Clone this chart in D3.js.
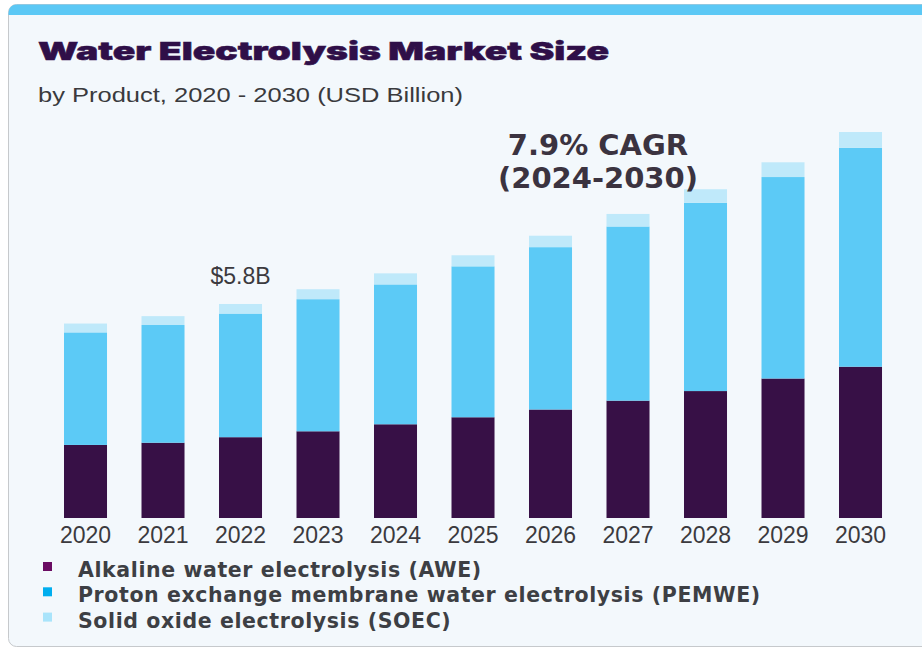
<!DOCTYPE html>
<html>
<head>
<meta charset="utf-8">
<script src="https://cdn.jsdelivr.net/npm/d3@7"></script>
<style>
  html, body { margin: 0; padding: 0; background: #ffffff; }
  svg { display: block; }
</style>
</head>
<body>
<svg id="chart" width="922" height="648"></svg>
<script>
// Water electrolysis market size by product, USD billion
const years = ["2020", "2021", "2022", "2023", "2024", "2025", "2026", "2027", "2028", "2029", "2030"];
const awe   = [1.98, 2.04, 2.19, 2.35, 2.54, 2.73, 2.94, 3.18, 3.44, 3.78, 4.10];
const pemwe = [3.05, 3.19, 3.35, 3.58, 3.79, 4.09, 4.40, 4.72, 5.10, 5.46, 5.93];
const soec  = [0.24, 0.24, 0.26, 0.27, 0.30, 0.30, 0.31, 0.34, 0.37, 0.40, 0.43];

const seriesKeys   = ["awe", "pemwe", "soec"];
const seriesNames  = ["Alkaline water electrolysis (AWE)",
                      "Proton exchange membrane water electrolysis (PEMWE)",
                      "Solid oxide electrolysis (SOEC)"];
const barColors    = ["#371046", "#5ccaf6", "#bfe9fa"];
const legendColors = ["#6a0c63", "#00aeef", "#a9e4fb"];

const calloutYear  = "2022";
const calloutText  = "$5.8B";
const cagrLines    = ["7.9% CAGR", "(2024-2030)"];

const titleText    = "Water Electrolysis Market Size";
const subtitleText = "by Product, 2020 - 2030 (USD Billion)";

const rows = years.map((yr, i) => ({ year: yr, awe: awe[i], pemwe: pemwe[i], soec: soec[i] }));

const svg = d3.select("#chart");

// Card background with a blue strip along the top edge
const defs = svg.append("defs");
defs.append("clipPath").attr("id", "card-clip")
  .append("rect")
  .attr("x", 8.5).attr("y", 4.5).attr("width", 940).attr("height", 642).attr("rx", 8);

svg.append("rect")
  .attr("x", 8.5).attr("y", 4.5).attr("width", 940).attr("height", 642).attr("rx", 8)
  .attr("fill", "#f3f8fc").attr("stroke", "#c6c9cc").attr("stroke-width", 1);

svg.append("g").attr("clip-path", "url(#card-clip)")
  .append("rect")
  .attr("x", 0).attr("y", 4).attr("width", 960).attr("height", 11)
  .attr("fill", "#5bc8f5");

// Title and subtitle
svg.append("text")
  .attr("x", 38).attr("y", 60)
  .attr("font-family", "Inter, Lato, Roboto, 'Liberation Sans', sans-serif")
  .attr("font-weight", 900)
  .attr("font-size", 25)
  .attr("fill", "#2f0f48")
  .attr("stroke", "#2f0f48")
  .attr("stroke-width", 0.5)
  .attr("textLength", 571)
  .attr("lengthAdjust", "spacingAndGlyphs")
  .text(titleText);

svg.append("text")
  .attr("x", 38).attr("y", 102)
  .attr("font-family", "'Liberation Sans', Arial, sans-serif")
  .attr("font-size", 21)
  .attr("fill", "#3a3a3d")
  .attr("textLength", 425).attr("lengthAdjust", "spacingAndGlyphs")
  .text(subtitleText);

// Scales
const x = d3.scaleBand()
  .domain(years)
  .range([46.76, 899.26])
  .paddingInner(0.445)
  .paddingOuter(0.2225);

const y = d3.scaleLinear()
  .domain([0, 12])
  .range([518, 518 - 12 * 36.9]);

const stacked = d3.stack().keys(seriesKeys)(rows);

svg.append("g")
  .selectAll("g")
  .data(stacked)
  .join("g")
  .attr("fill", (d, i) => barColors[i])
  .selectAll("rect")
  .data(d => d)
  .join("rect")
  .attr("x", d => x(d.data.year))
  .attr("width", x.bandwidth())
  .attr("y", d => y(d[1]))
  .attr("height", d => y(d[0]) - y(d[1]));

// Year labels along the bottom
const xAxis = d3.axisBottom(x).tickSize(0).tickPadding(0);
const xg = svg.append("g").attr("transform", "translate(0,518)").call(xAxis);
xg.select(".domain").remove();
xg.selectAll("text")
  .attr("y", 25)
  .attr("dy", 0)
  .attr("font-family", "'Liberation Sans', Arial, sans-serif")
  .attr("font-size", 23)
  .attr("fill", "#3b3a3e");

// Value callout above the 2022 bar
const ci = years.indexOf(calloutYear);
const calloutTotal = awe[ci] + pemwe[ci] + soec[ci];
svg.append("text")
  .attr("x", x(calloutYear) + x.bandwidth() / 2)
  .attr("y", y(calloutTotal) - 20)
  .attr("text-anchor", "middle")
  .attr("font-family", "'Liberation Sans', Arial, sans-serif")
  .attr("font-size", 23)
  .attr("fill", "#3b3a3e")
  .text(calloutText);

// Growth rate annotation
svg.append("g")
  .selectAll("text")
  .data(cagrLines)
  .join("text")
  .attr("x", 598)
  .attr("y", (d, i) => 155 + i * 33)
  .attr("text-anchor", "middle")
  .attr("font-family", "'DejaVu Sans', Verdana, sans-serif")
  .attr("font-weight", "bold")
  .attr("font-size", 29)
  .attr("fill", "#3b3340")
  .text(d => d);

// Legend
const legend = svg.append("g")
  .selectAll("g")
  .data(seriesNames)
  .join("g")
  .attr("transform", (d, i) => `translate(0,${577 + i * 25.3})`);

legend.append("rect")
  .attr("x", 43).attr("y", -15).attr("width", 9).attr("height", 9)
  .attr("fill", (d, i) => legendColors[i]);

legend.append("text")
  .attr("x", 78).attr("y", 0)
  .attr("font-family", "'DejaVu Sans', Verdana, sans-serif")
  .attr("font-weight", "bold")
  .attr("font-size", 20.5)
  .attr("letter-spacing", 0.6)
  .attr("fill", "#3d3f44")
  .text(d => d);
</script>
</body>
</html>
